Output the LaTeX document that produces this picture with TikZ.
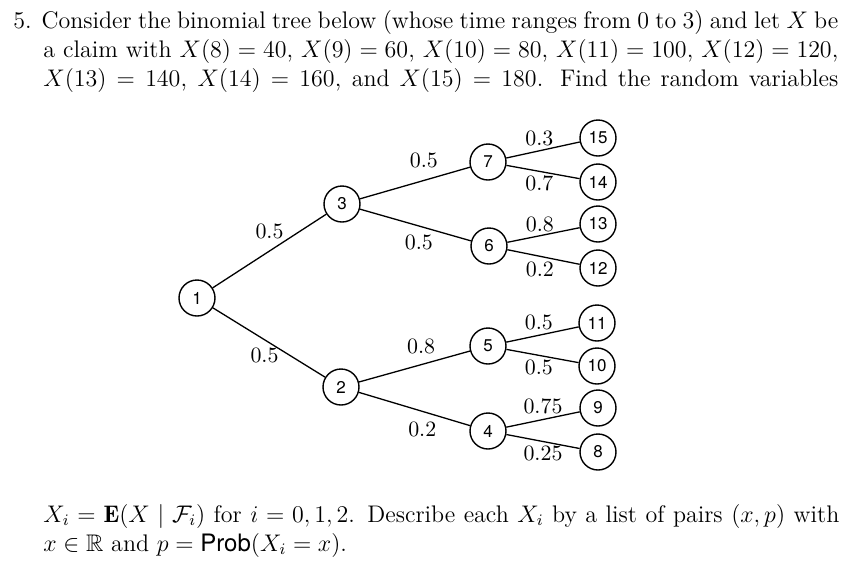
\documentclass[tikz,border=0pt]{standalone}
\usepackage{amsmath,amssymb}
\usepackage{fontspec}
\newfontfamily\helv{TeX Gyre Heros}
\usetikzlibrary{positioning}
\tikzset{
  st/.style={draw,circle,line width=0.7pt,minimum size=18pt,inner sep=0pt,
    font=\helv\fontsize{8.5}{10}\selectfont},
  br/.style={line width=0.65pt},
  pr/.style={font=\fontsize{10.5}{12}\selectfont,inner sep=1pt},
  ln/.style={anchor=base west,inner sep=0pt,font=\fontsize{12}{14.5}\selectfont},
}
\newcommand{\Prb}{\text{\helv Prob}}

\begin{document}
\begin{tikzpicture}[x=0.5pt,y=-0.5pt]
  \useasboundingbox (0,0) rectangle (864,570);
  % question text (top)
  \node[ln] (q1) at (13,28) {\makebox[412.5pt][s]{5. Consider the binomial tree below (whose time ranges from 0 to 3) and let $X$ be}};
  \node[ln] (q2) at (43,57) {\makebox[397.5pt][s]{a claim with $X(8)=40$, $X(9)=60$, $X(10)=80$, $X(11)=100$, $X(12)=120$,}};
  \node[ln] (q3) at (43,86) {\makebox[397.5pt][s]{$X(13)=140$, $X(14)=160$, and $X(15)=180$. Find the random variables}};
  % the tree
  \node[st] (n1)  at (197,298) {1};
  \node[st] (n3)  at (342,204) {3};
  \node[st] (n2)  at (341,387) {2};
  \node[st] (n7)  at (488,162) {7};
  \node[st] (n6)  at (489,246) {6};
  \node[st] (n5)  at (488,346) {5};
  \node[st] (n4)  at (488,431) {4};
  \node[st] (n15) at (598,138) {15};
  \node[st] (n14) at (598,182) {14};
  \node[st] (n13) at (598,224) {13};
  \node[st] (n12) at (598,268) {12};
  \node[st] (n11) at (597,323) {11};
  \node[st] (n10) at (597,366) {10};
  \node[st] (n9)  at (598,408) {9};
  \node[st] (n8)  at (598,452) {8};
  \draw[br] (n1) -- node[pr,pos=.5,above=5pt]  {$0.5$} (n3);
  \draw[br] (n1) -- node[pr,pos=.46,below=3pt] {$0.5$} (n2);
  \draw[br] (n3) -- node[pr,pos=.58,above=5pt] {$0.5$} (n7);
  \draw[br] (n3) -- node[pr,pos=.53,below=3.5pt] {$0.5$} (n6);
  \draw[br] (n2) -- node[pr,pos=.56,above=4.5pt] {$0.8$} (n5);
  \draw[br] (n2) -- node[pr,pos=.57,below=4pt] {$0.2$} (n4);
  \draw[br] (n7) -- node[pr,pos=.45,above=1.5pt] {$0.3$} (n15);
  \draw[br] (n7) -- node[pr,pos=.45,below=1pt] {$0.7$} (n14);
  \draw[br] (n6) -- node[pr,pos=.45,above=1pt] {$0.8$} (n13);
  \draw[br] (n6) -- node[pr,pos=.45,below=1.5pt] {$0.2$} (n12);
  \draw[br] (n5) -- node[pr,pos=.45,above=1.5pt] {$0.5$} (n11);
  \draw[br] (n5) -- node[pr,pos=.45,below=1pt] {$0.5$} (n10);
  \draw[br] (n4) -- node[pr,pos=.5,above=1.5pt] {$0.75$} (n9);
  \draw[br] (n4) -- node[pr,pos=.5,below=1pt] {$0.25$} (n8);
  % question text (bottom)
  \node[ln] (q4) at (43,522) {\makebox[398pt][s]{$X_i=\mathbf{E}(X\mid\mathcal{F}_i)$ for $i=0,1,2$. Describe each $X_i$ by a list of pairs $(x,p)$ with}};
  \node[ln] (q5) at (43,551) {$x\in\mathbb{R}$ and $p=\Prb(X_i=x)$.};
\end{tikzpicture}
\end{document}
